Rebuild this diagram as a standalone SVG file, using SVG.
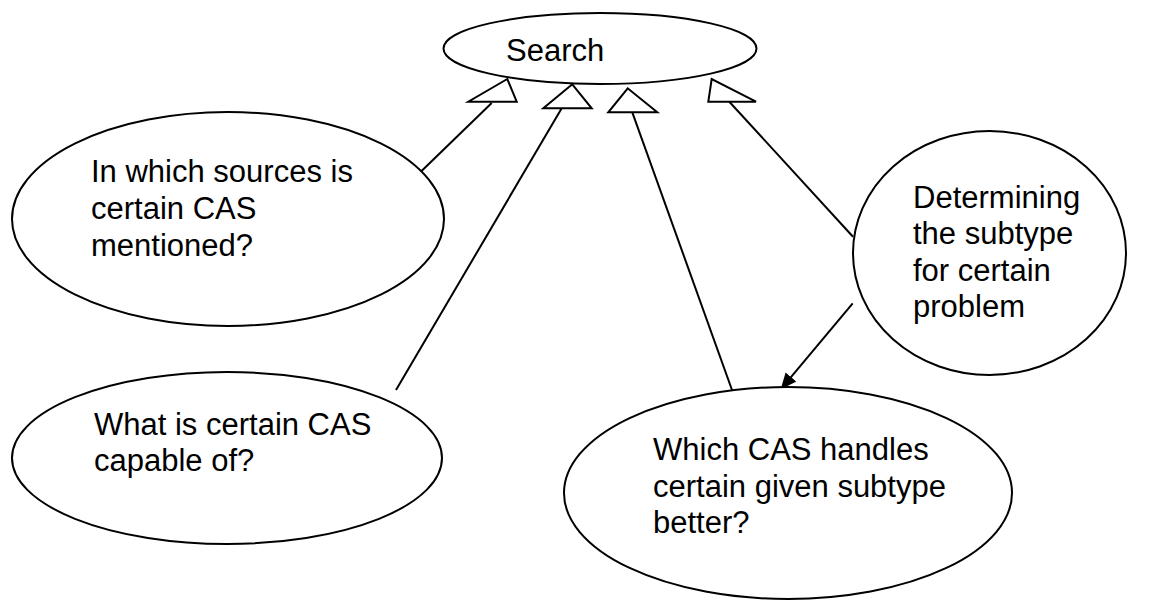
<svg xmlns="http://www.w3.org/2000/svg" width="1164" height="601" viewBox="0 0 1164 601">
  <style>
    .node { fill: #ffffff; stroke: #000000; stroke-width: 2; }
    .lbl { font-family: "Liberation Sans", Arial, sans-serif; font-size: 31px; fill: #000000; }
    .edge { stroke: #000000; stroke-width: 2; fill: none; }
    .head { fill: #ffffff; stroke: #000000; stroke-width: 2; stroke-linejoin: miter; }
  </style>
  <defs>
    <marker id="filled" markerUnits="userSpaceOnUse" markerWidth="18" markerHeight="16" refX="16" refY="7" orient="auto">
      <path d="M0,0 L16,7 L0,14 z" fill="#000000"/>
    </marker>
  </defs>
  <rect width="1164" height="601" fill="#ffffff"/>

  <g id="connectors">
    <line class="edge" x1="420" y1="172.5" x2="491.7" y2="103"/>
    <polygon class="head" points="507.3,79 468.3,101.7 516.7,101.7"/>
    <line class="edge" x1="396" y1="390" x2="561.7" y2="108.3"/>
    <polygon class="head" points="572.3,84.3 543.3,108.3 591.7,108.3"/>
    <line class="edge" x1="732" y1="390" x2="632.3" y2="112.3"/>
    <polygon class="head" points="627.7,88.3 608.3,112.3 657.3,112.3"/>
    <line class="edge" x1="853" y1="236.7" x2="729.3" y2="101.7"/>
    <polygon class="head" points="711.7,79 708.3,101.7 756,101.7"/>
    <line class="edge" x1="852.7" y1="303.3" x2="780.7" y2="389.3" marker-end="url(#filled)"/>
  </g>

  <g id="search">
    <ellipse class="node" cx="600" cy="48.5" rx="156.5" ry="35.5"/>
    <text class="lbl" x="506" y="61">Search</text>
  </g>

  <g id="sources">
    <ellipse class="node" cx="228" cy="219" rx="216" ry="107"/>
    <text class="lbl" x="91" y="181.5">In which sources is</text>
    <text class="lbl" x="91" y="218.5">certain CAS</text>
    <text class="lbl" x="91" y="255.5">mentioned?</text>
  </g>

  <g id="capable">
    <ellipse class="node" cx="227" cy="458" rx="215" ry="86"/>
    <text class="lbl" x="94" y="435">What is certain CAS</text>
    <text class="lbl" x="94" y="471">capable of?</text>
  </g>

  <g id="subtype">
    <ellipse class="node" cx="989.5" cy="253" rx="136.5" ry="122"/>
    <text class="lbl" x="913" y="207.5">Determining</text>
    <text class="lbl" x="913" y="244">the subtype</text>
    <text class="lbl" x="913" y="280.5">for certain</text>
    <text class="lbl" x="913" y="317">problem</text>
  </g>

  <g id="handles">
    <ellipse class="node" cx="788" cy="493" rx="224" ry="106"/>
    <text class="lbl" x="653" y="460">Which CAS handles</text>
    <text class="lbl" x="653" y="496.5">certain given subtype</text>
    <text class="lbl" x="653" y="533">better?</text>
  </g>
</svg>
